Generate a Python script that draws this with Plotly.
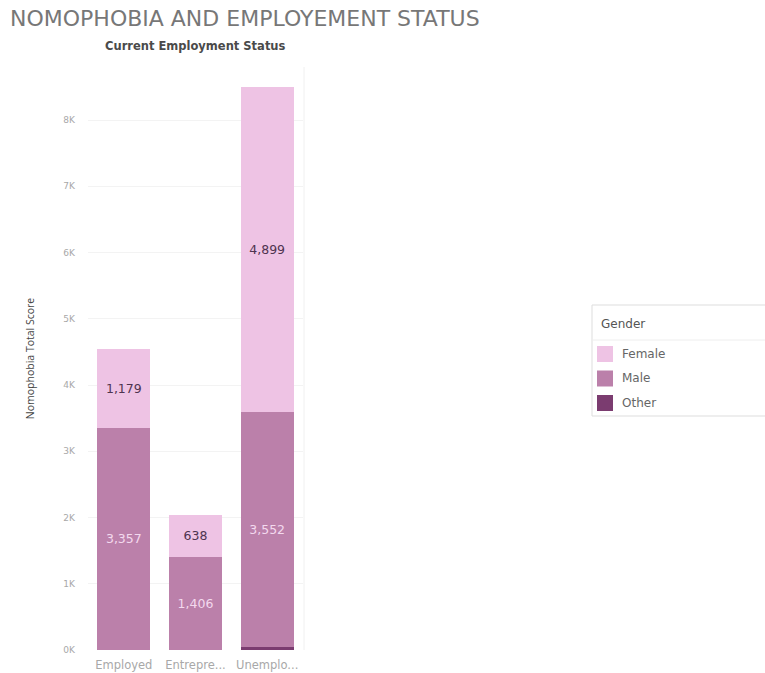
import plotly.graph_objects as go

# Nomophobia total score by current employment status, stacked by gender
categories = ["Employed", "Entrepreneur", "Unemployed"]
category_labels = ["Employed", "Entrepre...", "Unemplo..."]
other_scores = [0, 0, 40]
male_scores = [3357, 1406, 3552]
female_scores = [1179, 638, 4899]

y_tick_values = [0, 1000, 2000, 3000, 4000, 5000, 6000, 7000, 8000]
y_tick_labels = ["0K", "1K", "2K", "3K", "4K", "5K", "6K", "7K", "8K"]

genders = ["Female", "Male", "Other"]
colors = {"Female": "#eec3e4", "Male": "#bb80aa", "Other": "#7b3c70"}

W, H = 765, 673
ML, MR, MT, MB = 88, 462, 67, 23
PW, PH = W - ML - MR, H - MT - MB


def px(x):
    return (x - ML) / PW


def py(y):
    return (H - MB - y) / PH


fig = go.Figure()
fig.add_trace(go.Bar(
    x=categories, y=other_scores, name="Other",
    marker=dict(color=colors["Other"], line=dict(width=0)),
    hoverinfo="y+name",
))
fig.add_trace(go.Bar(
    x=categories, y=male_scores, name="Male",
    marker=dict(color=colors["Male"], line=dict(width=0)),
    text=[f"{v:,}" for v in male_scores], textposition="inside",
    insidetextanchor="middle",
    textfont=dict(color="#f3d9ee", size=12.5, family="DejaVu Sans"),
))
fig.add_trace(go.Bar(
    x=categories, y=female_scores, name="Female",
    marker=dict(color=colors["Female"], line=dict(width=0)),
    text=[f"{v:,}" for v in female_scores], textposition="inside",
    insidetextanchor="middle",
    textfont=dict(color="#4e3450", size=12.5, family="DejaVu Sans"),
))

fig.update_layout(
    width=W, height=H,
    margin=dict(l=ML, r=MR, t=MT, b=MB, pad=0),
    barmode="stack", bargap=0.26,
    showlegend=False,
    plot_bgcolor="white", paper_bgcolor="white",
    font=dict(family="Open Sans", color="#999999"),
    uniformtext=dict(minsize=8, mode="show"),
    xaxis=dict(
        tickvals=categories, ticktext=category_labels,
        tickfont=dict(size=11.5, color="#a8a8a8", family="DejaVu Sans"),
        showgrid=False, showline=False, ticks="",
        ticklabelstandoff=6, automargin=False,
        range=[-0.5, 2.5],
    ),
    yaxis=dict(
        range=[0, 8800],
        tickvals=y_tick_values, ticktext=y_tick_labels,
        tickfont=dict(size=9, color="#a8a8a8", family="DejaVu Sans"),
        showgrid=True, gridcolor="#f3f3f3", gridwidth=1,
        zeroline=False, showline=False, ticks="",
        ticklabelstandoff=12, automargin=False,
        title=dict(text="Nomophobia Total Score",
                   font=dict(size=10.5, color="#444444"), standoff=26),
    ),
)

# Titles
fig.add_annotation(
    text="NOMOPHOBIA AND EMPLOYEMENT STATUS", xref="paper", yref="paper",
    x=px(8), y=py(19), xanchor="left", yanchor="middle", showarrow=False,
    font=dict(size=22, color="#777777", family="DejaVu Sans"),
)
fig.add_annotation(
    text="<b>Current Employment Status</b>", xref="paper", yref="paper",
    x=px(195), y=py(46), xanchor="center", yanchor="middle", showarrow=False,
    font=dict(size=11.5, color="#4a4a4a", family="DejaVu Sans"),
)

# Right edge of the pane
fig.add_shape(type="line", xref="paper", yref="paper",
              x0=px(304), x1=px(304), y0=py(650), y1=py(67),
              line=dict(color="#f0f0f0", width=1))

# Gender legend
fig.add_shape(type="rect", xref="paper", yref="paper",
              x0=px(592), x1=px(766), y0=py(416), y1=py(305),
              line=dict(color="#dddddd", width=1), fillcolor="white")
fig.add_shape(type="line", xref="paper", yref="paper",
              x0=px(593), x1=px(766), y0=py(340), y1=py(340),
              line=dict(color="#eeeeee", width=1))
fig.add_annotation(
    text="Gender", xref="paper", yref="paper", x=px(599), y=py(324),
    xanchor="left", yanchor="middle", showarrow=False,
    font=dict(size=12, color="#555555", family="DejaVu Sans"),
)
for i, g in enumerate(genders):
    cy = 354 + i * 24.5
    fig.add_shape(type="rect", xref="paper", yref="paper",
                  x0=px(597), x1=px(613), y0=py(cy + 8), y1=py(cy - 8),
                  line=dict(width=0), fillcolor=colors[g])
    fig.add_annotation(
        text=g, xref="paper", yref="paper", x=px(620), y=py(cy),
        xanchor="left", yanchor="middle", showarrow=False,
        font=dict(size=12, color="#666666", family="DejaVu Sans"),
    )

fig.write_html("out.html")
